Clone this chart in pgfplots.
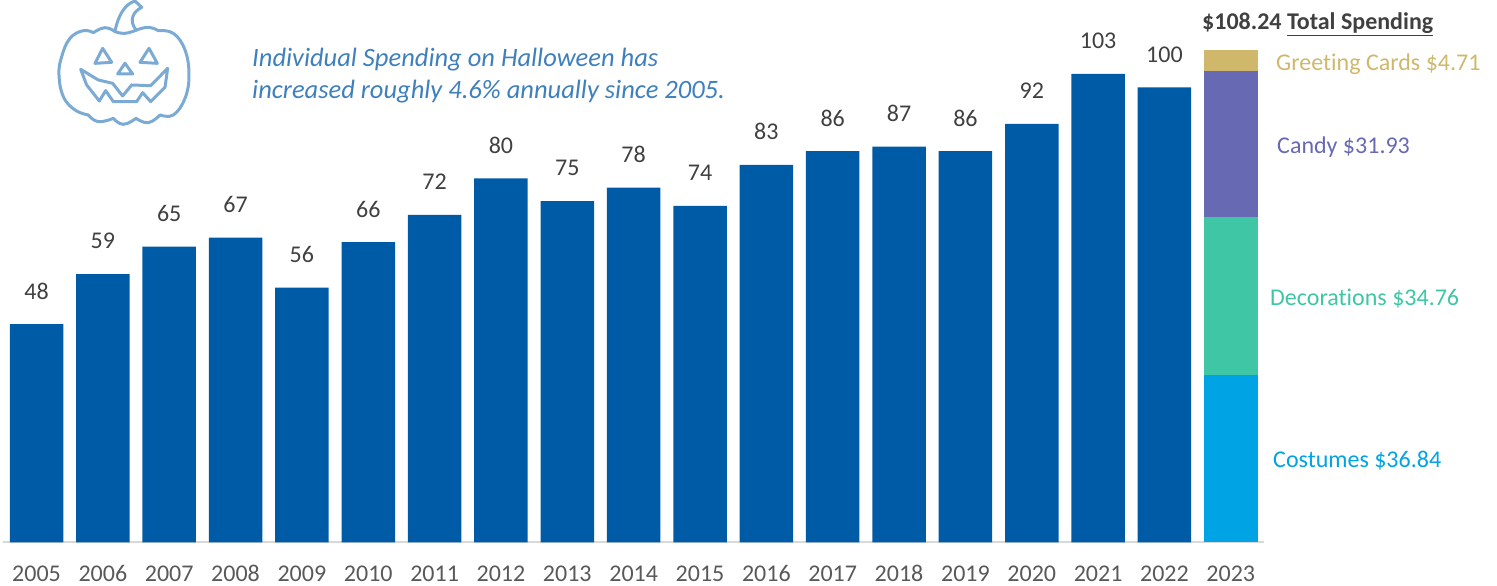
\documentclass[border=0pt]{standalone}
\usepackage{fontspec}
\setmainfont{Carlito}[Ligatures={NoCommon}]
\usepackage{pgfplots}
\usepackage{pgfplotstable}
\pgfplotsset{compat=1.18}
\definecolor{mainblue}{HTML}{005BA6}
\definecolor{costume}{HTML}{00A3E3}
\definecolor{decor}{HTML}{3EC6A5}
\definecolor{candy}{HTML}{6869B3}
\definecolor{cards}{HTML}{CFB76B}
\definecolor{note}{HTML}{3F80BC}
\definecolor{pump}{HTML}{7BABD4}
\definecolor{numtext}{HTML}{404040}
\definecolor{ticktext}{HTML}{595959}
\definecolor{baseline}{HTML}{D9D9D9}
% Spending per person by year; the last year is split by category.
\pgfplotstableread{
x  total costumes decorations candy cards
0  48  0 0 0 0
1  59  0 0 0 0
2  65  0 0 0 0
3  67  0 0 0 0
4  56  0 0 0 0
5  66  0 0 0 0
6  72  0 0 0 0
7  80  0 0 0 0
8  75  0 0 0 0
9  78  0 0 0 0
10 74  0 0 0 0
11 83  0 0 0 0
12 86  0 0 0 0
13 87  0 0 0 0
14 86  0 0 0 0
15 92  0 0 0 0
16 103 0 0 0 0
17 100 0 0 0 0
18 0   36.84 34.76 31.93 4.71
}\spending
\pgfplotsset{panel/.style={
  at={(0pt,0pt)}, anchor=south west,
  scale only axis, width=1261pt, height=542.5pt,
  xmin=-0.505, xmax=18.5, ymin=0, ymax=119.23,
  clip=false,
  /pgf/number format/assume math mode=true,
}}
\begin{document}
\begin{tikzpicture}
\path[use as bounding box] (-3pt,-43.5pt) rectangle (1494pt,542.5pt);
\begin{axis}[panel,
  ybar stacked, bar width=53.5pt,
  axis x line=bottom, axis y line=none,
  axis line style={draw=baseline, line width=2pt, -},
  xtick=data,
  xticklabels={2005,2006,2007,2008,2009,2010,2011,2012,2013,2014,2015,2016,2017,2018,2019,2020,2021,2022,2023},
  major tick length=0pt,
  xticklabel style={font=\fontsize{24}{28}\selectfont, text=ticktext, anchor=base, yshift=-39pt},
]
\addplot[fill=mainblue, draw=none] table[x=x, y=total] {\spending};
\addplot[fill=costume, draw=none] table[x=x, y=costumes] {\spending};
\addplot[fill=decor, draw=none] table[x=x, y=decorations] {\spending};
\addplot[fill=candy, draw=none] table[x=x, y=candy] {\spending};
\addplot[fill=cards, draw=none] table[x=x, y=cards] {\spending};
\end{axis}
% Value labels above the yearly bars
\begin{axis}[panel, hide axis]
\addplot[draw=none, skip coords between index={18}{19},
  nodes near coords,
  every node near coord/.append style={anchor=center, yshift=33pt, text=numtext, font=\fontsize{24}{28}\selectfont},
] table[x=x, y=total] {\spending};
\end{axis}
% Page coordinates: x to the right, y downward from the top-left corner.
\begin{scope}[shift={(-3pt,542.5pt)}, x=1pt, y=-1pt, every node/.style={anchor=base west, inner sep=0pt}]
\node[font=\fontsize{26.5}{30}\selectfont\itshape, text=note] at (252,67) {Individual Spending on Halloween has};
\node[font=\fontsize{26.5}{30}\selectfont\itshape, text=note] at (252,99) {increased roughly 4.6\% annually since 2005.};
\node[font=\fontsize{24}{28}\selectfont\bfseries, text=numtext] at (1202,30) {\$108.24 \underline{Total Spending}};
\node[font=\fontsize{24}{28}\selectfont, text=cards] at (1276,71) {Greeting Cards \$4.71};
\node[font=\fontsize{24}{28}\selectfont, text=candy] at (1277,154) {Candy \$31.93};
\node[font=\fontsize{24}{28}\selectfont, text=decor] at (1270,306) {Decorations \$34.76};
\node[font=\fontsize{24}{28}\selectfont, text=costume] at (1273,468) {Costumes \$36.84};
% Jack-o'-lantern outline
\begin{scope}[shift={(30,0)}, x=0.33333pt, y=-0.33333pt, draw=pump, line width=3pt, line join=round, line cap=round]
\draw plot[smooth, tension=.7] coordinates {(190,98)(160,92)(120,115)(95,170)(87,225)(100,290)(135,330)(175,345)};
\draw plot[smooth, tension=.8] coordinates {(175,345)(205,365)(250,355)};
\draw plot[smooth, tension=.8] coordinates {(250,355)(280,373)(318,355)};
\draw plot[smooth, tension=.8] coordinates {(318,355)(355,368)(390,345)};
\draw plot[smooth, tension=.7] coordinates {(390,345)(430,345)(465,295)(477,225)(465,150)(430,100)(385,92)};
\draw plot[smooth, tension=.8] coordinates {(385,92)(355,82)(320,90)};
\draw plot[smooth, tension=.8] coordinates {(320,90)(285,100)(255,95)};
\draw plot[smooth, tension=.8] coordinates {(255,95)(225,83)(190,98)};
\draw (255,93) .. controls (265,45) and (285,12) .. (315,3) -- (335,22) .. controls (310,35) and (295,60) .. (318,90);
\draw (218,145) -- (195,190) -- (245,187) -- cycle;
\draw (357,145) -- (330,187) -- (382,190) -- cycle;
\draw (285,190) -- (263,222) -- (308,222) -- cycle;
\draw (152,208) -- (205,240) -- (248,250) -- (278,288) -- (305,255) -- (362,257) -- (413,205) -- (405,262) -- (362,305) -- (338,278) -- (320,305) -- (250,305) -- (227,272) -- (208,303) -- (170,255) -- cycle;
\end{scope}
\end{scope}
\end{tikzpicture}
\end{document}
